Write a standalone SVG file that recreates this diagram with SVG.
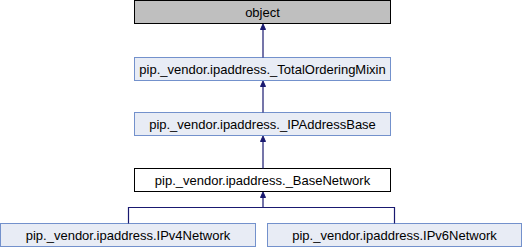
<svg xmlns="http://www.w3.org/2000/svg" width="526" height="248" viewBox="0 0 526 248">
  <style>
    .box { fill: #e8ecf5; stroke: #7391cc; stroke-width: 1; }
    .root { fill: #bfbfbf; stroke: #000000; stroke-width: 1; }
    .cur { fill: #ffffff; stroke: #000000; stroke-width: 1; }
    .lbl { font-family: "Liberation Sans", Arial, sans-serif; font-size: 13px; fill: #000000; text-anchor: middle; }
    .edge { fill: none; stroke: #191970; stroke-width: 1.2; }
    .head { fill: #191970; stroke: #191970; stroke-width: 1; }
  </style>

  <g id="node-object">
    <rect class="root" x="134.5" y="0.5" width="256" height="23"/>
    <text class="lbl" x="262.5" y="16.5">object</text>
  </g>
  <g id="node-total-ordering-mixin">
    <rect class="box" x="134.5" y="57.5" width="256" height="23"/>
    <text class="lbl" x="262.5" y="73.5">pip._vendor.ipaddress._TotalOrderingMixin</text>
  </g>
  <g id="node-ipaddress-base">
    <rect class="box" x="134.5" y="112.5" width="256" height="23"/>
    <text class="lbl" x="262.5" y="128.5">pip._vendor.ipaddress._IPAddressBase</text>
  </g>
  <g id="node-base-network">
    <rect class="cur" x="134.5" y="168.5" width="256" height="23"/>
    <text class="lbl" x="262.5" y="184.5">pip._vendor.ipaddress._BaseNetwork</text>
  </g>
  <g id="node-ipv4-network">
    <rect class="box" x="0.5" y="223.5" width="255" height="23"/>
    <text class="lbl" x="128" y="239.5">pip._vendor.ipaddress.IPv4Network</text>
  </g>
  <g id="node-ipv6-network">
    <rect class="box" x="267.5" y="223.5" width="254" height="23"/>
    <text class="lbl" x="394.5" y="239.5">pip._vendor.ipaddress.IPv6Network</text>
  </g>

  <g id="connectors">
    <path class="edge" d="M263,57.5 V28"/>
    <polygon class="head" points="263,24 260.5,29.5 265.5,29.5"/>
    <path class="edge" d="M263,112.5 V85"/>
    <polygon class="head" points="263,81 260.5,86.5 265.5,86.5"/>
    <path class="edge" d="M263,168.5 V140"/>
    <polygon class="head" points="263,136 260.5,141.5 265.5,141.5"/>
    <path class="edge" d="M128.5,223.5 V207.5 H394.5 V223.5 M263,207.5 V196"/>
    <polygon class="head" points="263,192 260.5,197.5 265.5,197.5"/>
  </g>
</svg>
